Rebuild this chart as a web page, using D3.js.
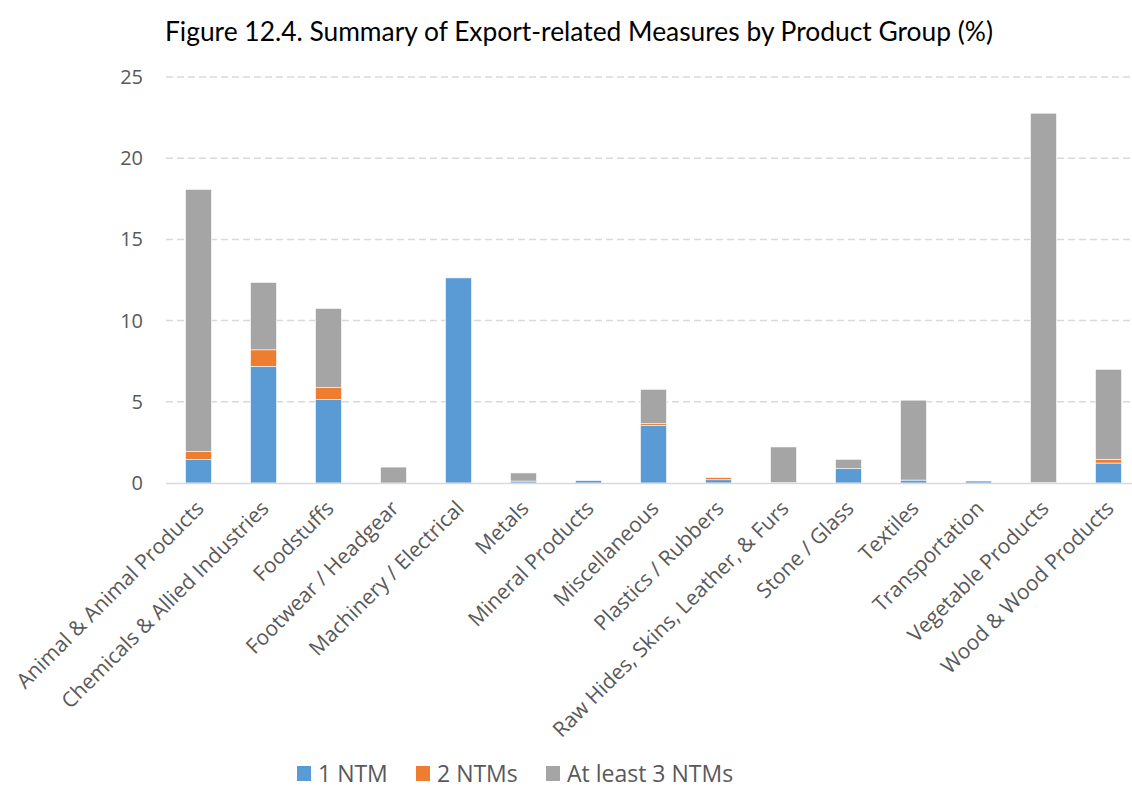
<!DOCTYPE html>
<html>
<head>
<meta charset="utf-8">
<script src="https://cdn.jsdelivr.net/npm/d3@7"></script>
<style>
  html, body { margin: 0; padding: 0; background: #ffffff; }
  svg { display: block; }
</style>
</head>
<body>
<svg id="chart" width="1132" height="790"></svg>
<script>
// Product groups along the x axis
const categories = [
  "Animal & Animal Products",
  "Chemicals & Allied Industries",
  "Foodstuffs",
  "Footwear / Headgear",
  "Machinery / Electrical",
  "Metals",
  "Mineral Products",
  "Miscellaneous",
  "Plastics / Rubbers",
  "Raw Hides, Skins, Leather, & Furs",
  "Stone / Glass",
  "Textiles",
  "Transportation",
  "Vegetable Products",
  "Wood & Wood Products"
];

// Share of export-related measures (%) per group
const oneNTM    = [1.45, 7.18, 5.13, 0,    12.63, 0.12, 0.15, 3.55, 0.20, 0.02, 0.88, 0.18, 0.12, 0.02,  1.23];
const twoNTMs   = [0.48, 1.02, 0.74, 0,    0,     0,    0,    0.10, 0.13, 0,    0,    0,    0,    0,     0.23];
const threeNTMs = [16.15, 4.15, 4.88, 0.98, 0,    0.50, 0,    2.12, 0.02, 2.20, 0.58, 4.92, 0,    22.75, 5.54];

const seriesNames = ["1 NTM", "2 NTMs", "At least 3 NTMs"];
const seriesColors = ["#5b9bd5", "#ed7d31", "#a5a5a5"];

const yTicks = [0, 5, 10, 15, 20, 25];

(function () {
  const svg = d3.select("#chart");
  const W = 1132;
  const plotLeft = 166, plotRight = 1141, plotTop = 77, plotBottom = 483;

  const rows = categories.map((c, i) => ({
    cat: c,
    "1 NTM": oneNTM[i],
    "2 NTMs": twoNTMs[i],
    "At least 3 NTMs": threeNTMs[i]
  }));

  const stacked = d3.stack().keys(seriesNames)(rows);

  const x = d3.scaleBand()
    .domain(categories)
    .range([plotLeft, plotRight])
    .paddingInner(0.6)
    .paddingOuter(0.3);

  const y = d3.scaleLinear().domain([0, 25]).range([plotBottom, plotTop]);

  const color = d3.scaleOrdinal().domain(seriesNames).range(seriesColors);

  // Title
  svg.append("text")
    .attr("x", 165)
    .attr("y", 41)
    .attr("textLength", 828)
    .attr("lengthAdjust", "spacingAndGlyphs")
    .style("font-family", "Lato, 'Open Sans', sans-serif")
    .style("font-size", "26px")
    .style("fill", "#000000")
    .text("Figure 12.4. Summary of Export-related Measures by Product Group (%)");

  // Horizontal dashed gridlines
  svg.append("g")
    .selectAll("line")
    .data(yTicks.filter(d => d > 0))
    .join("line")
    .attr("x1", plotLeft)
    .attr("x2", W)
    .attr("y1", d => y(d))
    .attr("y2", d => y(d))
    .attr("stroke", "#d9d9d9")
    .attr("stroke-width", 1.5)
    .attr("stroke-dasharray", "7,4");

  // Y axis tick labels
  const yAxis = d3.axisLeft(y).tickValues(yTicks).tickSize(0).tickPadding(0);
  const yg = svg.append("g")
    .attr("transform", "translate(143,0)")
    .call(yAxis);
  yg.select(".domain").remove();
  yg.selectAll("text")
    .style("font-family", "'Open Sans', sans-serif")
    .style("font-size", "20px")
    .style("fill", "#595959");

  // Stacked bars
  svg.append("g")
    .selectAll("g")
    .data(stacked)
    .join("g")
    .attr("fill", d => color(d.key))
    .selectAll("rect")
    .data(d => d.filter(s => s[1] - s[0] > 0))
    .join("rect")
    .attr("x", d => x(d.data.cat))
    .attr("width", x.bandwidth())
    .attr("y", d => y(d[1]))
    .attr("height", d => y(d[0]) - y(d[1]))
    .attr("stroke", "#ffffff")
    .attr("stroke-width", 0.6);

  // Baseline
  svg.append("line")
    .attr("x1", plotLeft)
    .attr("x2", W)
    .attr("y1", y(0) + 0.5)
    .attr("y2", y(0) + 0.5)
    .attr("stroke", "#d9d9d9")
    .attr("stroke-width", 1.5);

  // Rotated category labels
  const xAxis = d3.axisBottom(x).tickSize(0).tickPadding(0);
  const xg = svg.append("g")
    .attr("transform", `translate(0,${plotBottom})`)
    .call(xAxis);
  xg.select(".domain").remove();
  xg.selectAll(".tick text")
    .attr("x", 0)
    .attr("y", 0)
    .attr("transform", "translate(-4,16) rotate(-45)")
    .attr("dy", "0.72em")
    .style("text-anchor", "end")
    .style("font-family", "'Open Sans', sans-serif")
    .style("font-size", "21px")
    .style("fill", "#595959");

  // Legend
  const legendX = [297, 416, 546];
  const lg = svg.append("g");
  seriesNames.forEach((name, i) => {
    lg.append("rect")
      .attr("x", legendX[i])
      .attr("y", 766)
      .attr("width", 14)
      .attr("height", 15)
      .attr("fill", seriesColors[i]);
    lg.append("text")
      .attr("x", legendX[i] + 21)
      .attr("y", 782)
      .style("font-family", "'Open Sans', sans-serif")
      .style("font-size", "23px")
      .style("fill", "#595959")
      .text(name);
  });
})();
</script>
</body>
</html>
